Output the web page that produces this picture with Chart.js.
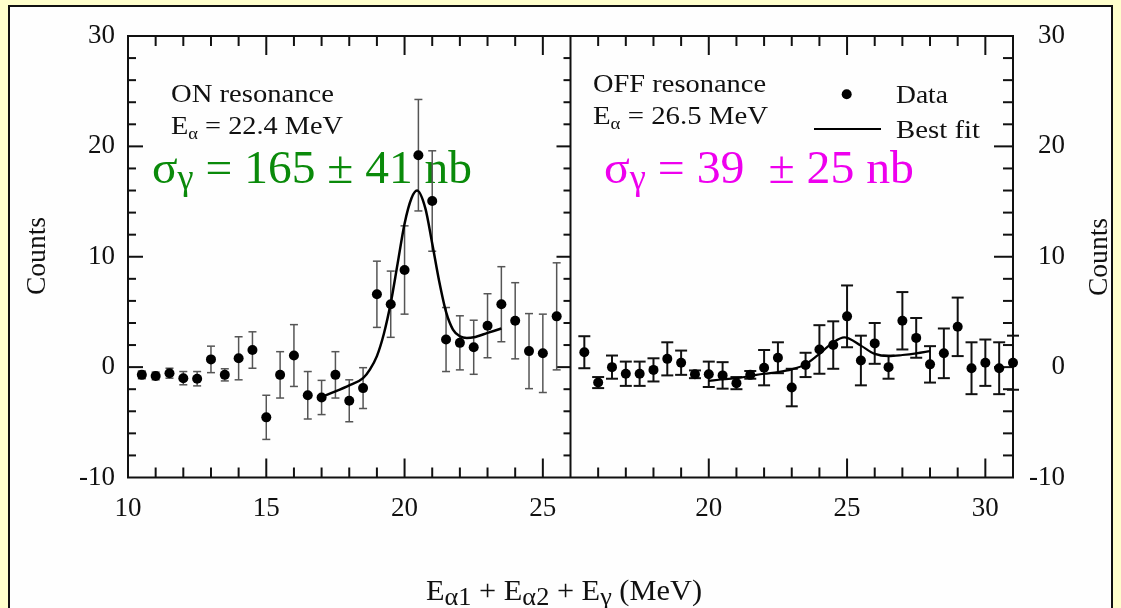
<!DOCTYPE html>
<html>
<head>
<meta charset="utf-8">
<script src="https://cdn.jsdelivr.net/npm/chart.js"></script>
<style>
html,body{margin:0;padding:0;background:#ffffcc;overflow:hidden;width:1121px;height:608px;}
#frame{position:absolute;left:8px;top:5px;width:1101px;height:640px;background:#fefefe;border:2px solid #111;border-bottom:none;}
#c{position:absolute;left:0;top:0;}
</style>
</head>
<body>
<div id="frame"></div>
<canvas id="c" width="1121" height="608"></canvas>
<script>
// ---------- DATA ----------
// ON resonance panel (left)
const leftX   = [10.5, 11, 11.5, 12, 12.5, 13, 13.5, 14, 14.5, 15, 15.5, 16, 16.5, 17, 17.5, 18, 18.5, 19, 19.5, 20, 20.5, 21, 21.5, 22, 22.5, 23, 23.5, 24, 24.5, 25, 25.5];
const leftY   = [-0.7, -0.8, -0.55, -1.0, -1.05, 0.7, -0.7, 0.8, 1.55, -4.55, -0.7, 1.05, -2.55, -2.75, -0.7, -3.05, -1.9, 6.6, 5.7, 8.8, 19.2, 15.05, 2.5, 2.2, 1.8, 3.75, 5.7, 4.2, 1.45, 1.25, 4.6];
const leftErr = [0.35, 0.35, 0.45, 0.6, 0.65, 1.2, 0.55, 1.95, 1.65, 2.0, 2.1, 2.8, 2.15, 1.55, 2.1, 1.9, 1.85, 3.0, 3.0, 4.0, 5.05, 4.55, 2.9, 2.45, 2.45, 2.9, 3.4, 3.45, 3.4, 3.55, 4.85];
const fitLeftX = [17, 17.5, 18, 18.5, 18.75, 19, 19.25, 19.5, 19.75, 20, 20.25, 20.45, 20.75, 21, 21.25, 21.5, 21.75, 22, 22.25, 22.5, 23, 23.5];
const fitLeftY = [-2.7, -2.2, -1.65, -1.0, -0.2, 1.0, 3.0, 5.8, 9.4, 13.0, 15.3, 16.0, 14.4, 11.2, 7.8, 5.0, 3.4, 2.8, 2.65, 2.7, 3.1, 3.5];

// OFF resonance panel (right)
const rightX   = [15.5, 16, 16.5, 17, 17.5, 18, 18.5, 19, 19.5, 20, 20.5, 21, 21.5, 22, 22.5, 23, 23.5, 24, 24.5, 25, 25.5, 26, 26.5, 27, 27.5, 28, 28.5, 29, 29.5, 30, 30.5, 31];
const rightY   = [1.35, -1.4, 0, -0.6, -0.6, -0.25, 0.75, 0.4, -0.65, -0.65, -0.75, -1.45, -0.7, -0.05, 0.85, -1.85, 0.2, 1.6, 2.0, 4.6, 0.6, 2.15, 0, 4.2, 2.65, 0.25, 1.25, 3.65, -0.1, 0.4, -0.1, 0.4];
const rightErr = [1.45, 0.5, 1.05, 1.1, 1.1, 1.05, 1.5, 1.1, 0.35, 1.15, 1.2, 0.55, 0.35, 1.6, 1.4, 1.7, 1.1, 2.2, 2.15, 2.8, 2.25, 1.85, 1.05, 2.6, 1.8, 1.65, 2.25, 2.65, 2.35, 2.1, 2.35, 2.45];
const fitRightX = [20, 20.5, 21, 21.5, 22, 22.5, 23, 23.5, 24, 24.5, 24.9, 25.5, 26, 26.5, 27, 27.5, 28];
const fitRightY = [-1.25, -1.1, -1.0, -0.8, -0.6, -0.45, -0.2, 0.25, 1.2, 2.25, 2.7, 1.95, 1.2, 1.0, 1.1, 1.25, 1.45];

// axes
const xLeftRange  = [10, 26];
const xRightRange = [15, 31];
const yRange      = [-10, 30];
const xLeftTicks  = [10, 15, 20, 25];
const xRightTicks = [20, 25, 30];
const yTicks      = [-10, 0, 10, 20, 30];
const xMinorStep = 1, xMajorStep = 5, yMinorStep = 2, yMajorStep = 10;

// texts
const seriesNames = ['Data', 'Best fit'];
const yTitle = 'Counts';
const onTitle = 'ON resonance';
const offTitle = 'OFF resonance';
const onEnergy = '22.4 MeV';
const offEnergy = '26.5 MeV';
const onSigma = '165 \u00b1 41 nb';
const offSigma = '39  \u00b1 25 nb';

// ---------- RENDER ----------
const FONT = '"Liberation Serif", "Times New Roman", serif';
const INK = '#111';

function richText(ctx, segs, x, y, targetW, color) {
  ctx.save();
  ctx.fillStyle = color;
  ctx.textBaseline = 'alphabetic';
  ctx.textAlign = 'left';
  let w = 0;
  segs.forEach(s => { ctx.font = s[1] + 'px ' + FONT; w += ctx.measureText(s[0]).width; });
  const sx = targetW ? targetW / w : 1;
  ctx.translate(x, y);
  ctx.scale(sx, 1);
  let cx = 0;
  segs.forEach(s => {
    ctx.font = s[1] + 'px ' + FONT;
    ctx.fillText(s[0], cx, s[2] || 0);
    cx += ctx.measureText(s[0]).width;
  });
  ctx.restore();
}

function rotText(ctx, t, cx, cy, size, targetW) {
  ctx.save();
  ctx.font = size + 'px ' + FONT;
  ctx.fillStyle = INK;
  ctx.textAlign = 'center';
  ctx.textBaseline = 'middle';
  const w = ctx.measureText(t).width;
  ctx.translate(cx, cy);
  ctx.rotate(-Math.PI / 2);
  ctx.scale(targetW / w, 1);
  ctx.fillText(t, 0, 0);
  ctx.restore();
}

function seg(ctx, x1, y1, x2, y2) {
  ctx.beginPath(); ctx.moveTo(x1, y1); ctx.lineTo(x2, y2); ctx.stroke();
}

function drawErr(ctx, sc, ys, xs, vals, errs, color, lw, cap) {
  ctx.save();
  ctx.strokeStyle = color; ctx.lineWidth = lw;
  xs.forEach((xv, i) => {
    const px = sc.getPixelForValue(xv);
    const p1 = ys.getPixelForValue(vals[i] + errs[i]);
    const p2 = ys.getPixelForValue(vals[i] - errs[i]);
    seg(ctx, px, p1, px, p2);
    seg(ctx, px - cap / 2, p1, px + cap / 2, p1);
    seg(ctx, px - cap / 2, p2, px + cap / 2, p2);
  });
  ctx.restore();
}

const decor = {
  id: 'decor',
  beforeDatasetsDraw(chart) {
    const ctx = chart.ctx;
    const {xL, xR, y} = chart.scales;
    // annotations
    richText(ctx, [[onTitle, 26]], 171, 101.5, 163, INK);
    richText(ctx, [['E', 26], ['\u03b1', 17, 5], [' = ' + onEnergy, 26]], 171, 134, 172, INK);
    richText(ctx, [[offTitle, 26]], 593, 91.5, 173, INK);
    richText(ctx, [['E', 26], ['\u03b1', 17, 5], [' = ' + offEnergy, 26]], 593, 124, 175, INK);
    richText(ctx, [['\u03c3', 47], ['\u03b3', 36, 6], [' = ' + onSigma, 47]], 152, 183, 320, '#0a8a0a');
    richText(ctx, [['\u03c3', 47], ['\u03b3', 36, 6], [' = ' + offSigma, 47]], 604, 183, 310, '#ee00ee');
    // legend
    ctx.save();
    ctx.fillStyle = '#000';
    ctx.beginPath(); ctx.arc(846.7, 94.3, 5, 0, Math.PI * 2); ctx.fill();
    ctx.strokeStyle = '#000'; ctx.lineWidth = 2.2;
    seg(ctx, 814, 129, 881, 129);
    ctx.restore();
    richText(ctx, [[seriesNames[0], 26]], 896, 103, 52, INK);
    richText(ctx, [[seriesNames[1], 26]], 896, 138, 84, INK);
    // axis titles
    richText(ctx, [['E', 30], ['\u03b11', 26, 5], [' + E', 30], ['\u03b12', 26, 5], [' + E', 30], ['\u03b3', 26, 5], [' (MeV)', 30]], 426, 600, 276, INK);
    rotText(ctx, yTitle, 38, 256, 27, 78);
    rotText(ctx, yTitle, 1100, 257, 27, 78);

    // frame + inward ticks
    const top = y.getPixelForValue(yRange[1]), bot = y.getPixelForValue(yRange[0]);
    const L = xL.left, M = xL.right, R = xR.right;
    ctx.save();
    ctx.strokeStyle = INK; ctx.lineWidth = 2;
    ctx.strokeRect(L, top, R - L, bot - top);
    seg(ctx, M, top, M, bot);
    [[xL, xLeftRange], [xR, xRightRange]].forEach(([sc, rg]) => {
      for (let v = rg[0] + xMinorStep; v < rg[1]; v += xMinorStep) {
        const px = sc.getPixelForValue(v);
        const len = (v % xMajorStep === 0) ? 19 : 10;
        seg(ctx, px, bot, px, bot - len);
        seg(ctx, px, top, px, top + len);
      }
    });
    for (let v = yRange[0] + yMinorStep; v < yRange[1]; v += yMinorStep) {
      const py = y.getPixelForValue(v);
      const major = (v % yMajorStep === 0);
      seg(ctx, L, py, L + (major ? 15 : 8), py);
      seg(ctx, M, py, M - (major ? 14 : 7), py);
      seg(ctx, R, py, R - (major ? 19 : 10), py);
    }
    ctx.restore();

    // error bars
    drawErr(ctx, xL, y, leftX, leftY, leftErr, '#555', 1.5, 8);
    drawErr(ctx, xR, y, rightX, rightY, rightErr, '#111', 2, 12);
  }
};

const tickFont = {family: FONT, size: 27};
function xScale(range, ticks) {
  return {
    type: 'linear', position: 'bottom', stack: 'x', stackWeight: 1,
    min: range[0], max: range[1],
    grid: {display: false, drawTicks: false}, border: {display: false},
    ticks: {font: tickFont, color: INK, padding: 15, maxRotation: 0, autoSkip: false, callback: v => String(v)},
    afterBuildTicks: s => { s.ticks = ticks.map(v => ({value: v})); },
    afterFit: s => { s.height = 130.5; }
  };
}
function yScale(pos, width, pad, align) {
  return {
    type: 'linear', position: pos, min: yRange[0], max: yRange[1],
    grid: {display: false, drawTicks: false}, border: {display: false},
    ticks: {font: tickFont, color: INK, padding: pad, crossAlign: align, callback: v => String(v)},
    afterBuildTicks: s => { s.ticks = yTicks.map(v => ({value: v})); },
    afterFit: s => { s.width = width; }
  };
}
const pts = (xs, ys) => xs.map((x, i) => ({x: x, y: ys[i]}));

new Chart(document.getElementById('c'), {
  type: 'scatter',
  data: {
    datasets: [
      {label: seriesNames[0], data: pts(leftX, leftY), xAxisID: 'xL', yAxisID: 'y', backgroundColor: '#000', borderColor: '#000', pointRadius: 5, pointBorderWidth: 0, showLine: false, clip: false},
      {label: seriesNames[1], data: pts(fitLeftX, fitLeftY), xAxisID: 'xL', yAxisID: 'y', showLine: true, pointRadius: 0, borderColor: '#000', borderWidth: 2.5, cubicInterpolationMode: 'monotone', fill: false, clip: false},
      {label: seriesNames[0], data: pts(rightX, rightY), xAxisID: 'xR', yAxisID: 'y', backgroundColor: '#000', borderColor: '#000', pointRadius: 5, pointBorderWidth: 0, showLine: false, clip: false},
      {label: seriesNames[1], data: pts(fitRightX, fitRightY), xAxisID: 'xR', yAxisID: 'y', showLine: true, pointRadius: 0, borderColor: '#000', borderWidth: 2.2, cubicInterpolationMode: 'monotone', fill: false, clip: false}
    ]
  },
  options: {
    responsive: false, animation: false, devicePixelRatio: 1,
    layout: {padding: {top: 36, left: 0, right: 56, bottom: 0}},
    plugins: {legend: {display: false}, tooltip: {enabled: false}},
    scales: {
      xL: xScale(xLeftRange, xLeftTicks),
      xR: xScale(xRightRange, xRightTicks),
      y: yScale('left', 128, 13, 'near'),
      y2: yScale('right', 52, 14, 'far')
    }
  },
  plugins: [decor]
});
</script>
</body>
</html>
